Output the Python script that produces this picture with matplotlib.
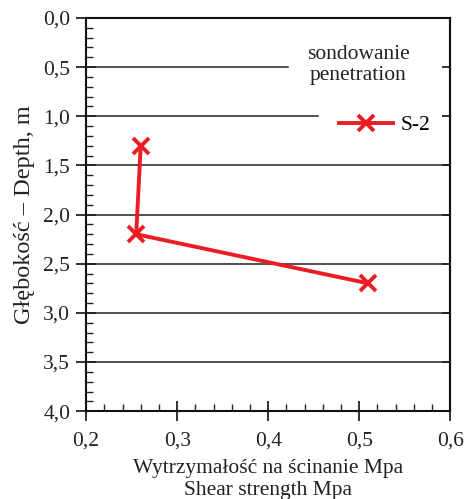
import matplotlib
matplotlib.use("Agg")
import matplotlib.pyplot as plt
from matplotlib.ticker import MultipleLocator, FuncFormatter, NullFormatter

plt.rcParams['font.family'] = ['Liberation Serif', 'DejaVu Serif']

shear = [0.26, 0.255, 0.51]
depth = [1.3, 2.2, 2.7]
series_name = "S-2"
legend_title = "sondowanie\npenetration"
grid_levels = [0.5, 1.0, 1.5, 2.0, 2.5, 3.0, 3.5]

fig = plt.figure(figsize=(4.68, 4.99), dpi=100)
ax = fig.add_axes([0.184, 0.176, 0.778, 0.788])

red = '#ec1c24'
ink = '#222222'
ax.set_xlim(0.2, 0.6)
ax.set_ylim(4.0, 0.0)

grid_xmax = {0.5: (288 - 86) / 364, 1.0: (318 - 86) / 364}
for g in grid_levels:
    ax.axhline(g, xmin=0, xmax=grid_xmax.get(g, 1.0), color=ink, lw=1.1, zorder=1)

ax.plot(shear, depth, color=red, lw=2.8, marker='x', ms=12, mew=2.8,
        label=series_name, zorder=3, clip_on=False)

fmt = FuncFormatter(lambda v, p: f"{v:.1f}".replace('.', ','))
ax.xaxis.set_major_locator(MultipleLocator(0.1))
ax.xaxis.set_minor_locator(MultipleLocator(0.02))
ax.yaxis.set_major_locator(MultipleLocator(0.5))
ax.yaxis.set_minor_locator(MultipleLocator(0.1))
ax.xaxis.set_major_formatter(fmt)
ax.yaxis.set_major_formatter(fmt)

ax.tick_params(which='both', colors=ink, top=False, right=False)
ax.tick_params(axis='x', which='major', direction='inout', length=14, width=1.3,
               labelsize=15.5, pad=8)
ax.tick_params(axis='x', which='minor', direction='in', length=5, width=1.0)
ax.tick_params(axis='y', which='major', direction='inout', length=15, width=1.3,
               labelsize=15.5, pad=4)
ax.tick_params(axis='y', which='minor', direction='in', length=5, width=1.0)
for s in ax.spines.values():
    s.set_linewidth(1.5)
    s.set_color('#111111')

sec = ax.secondary_yaxis('right')
sec.yaxis.set_major_locator(MultipleLocator(0.5))
sec.yaxis.set_major_formatter(NullFormatter())
sec.tick_params(axis='y', which='major', direction='in', length=6, width=1.3, colors=ink)
sec.tick_params(axis='y', which='minor', length=0)
sec.spines['right'].set_linewidth(1.5)
sec.spines['right'].set_color('#111111')

ax.set_xlabel("Wytrzymałość na ścinanie Mpa\nShear strength Mpa", fontsize=15.5,
              color=ink, linespacing=1.2, labelpad=6)
ax.set_ylabel("Głębokość – Depth, m", fontsize=17.5, color=ink, labelpad=6)

ax.text(0.499, 0.475, legend_title, transform=ax.transData, fontsize=15.5,
        color=ink, ha='center', va='center', linespacing=1.15, zorder=4)
leg = ax.legend(loc='center left', bbox_to_anchor=(0.478, 1.09), bbox_transform=ax.transData,
                frameon=False, fontsize=15.5, handlelength=2.5, handletextpad=0.35,
                borderpad=0, borderaxespad=0)
leg.set_zorder(4)

fig.savefig("out.png", dpi=100)
